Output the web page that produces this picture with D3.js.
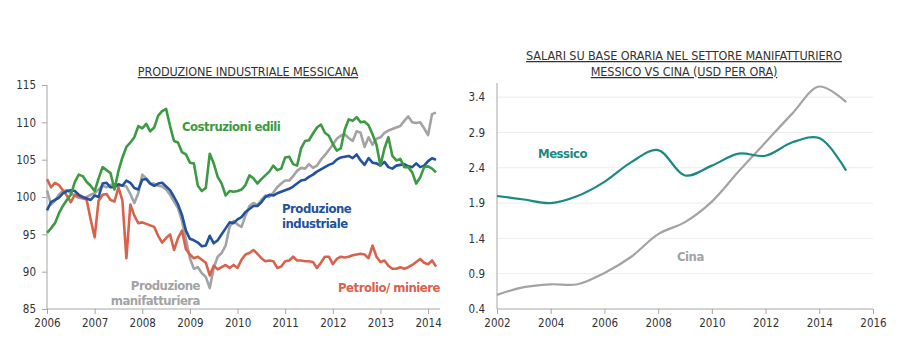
<!DOCTYPE html>
<html lang="it">
<head>
<meta charset="UTF-8">
<title>Messico</title>
<script src="https://d3js.org/d3.v7.min.js"></script>
<style>
    body { margin: 0; background: #fff; font-family: "Liberation Sans Narrow", "DejaVu Sans Condensed", "Arial Narrow", sans-serif; }
    .axis text { font-size: 11.5px; fill: #333; font-family: "Liberation Sans Narrow", "DejaVu Sans Condensed", sans-serif; }
    .axis path, .axis line { stroke: #a6a6a6; }
    .title { font-size: 12.5px; fill: #333; text-decoration: underline; letter-spacing: -0.1px; }
    .lbl { font-size: 13px; font-weight: bold; letter-spacing: -0.5px; }
</style>
</head>
<body>
<svg id="chart" width="900" height="350"></svg>
<script>
    // Left chart: monthly index, Jan 2006 .. Mar 2014
    const startYear = 2006;
    const costruzioni = [
        95.2, 95.8, 96.5, 97.8, 98.8, 99.6, 100.3, 102.0, 103.0, 102.8, 102.0, 101.5,
        100.8, 102.5, 104.0, 103.6, 103.2, 101.0, 103.5, 105.3, 106.7, 107.3, 108.0, 109.5,
        109.2, 109.8, 108.8, 109.3, 110.9, 111.5, 111.8, 109.5, 107.5, 107.3, 106.0, 105.7,
        104.6, 104.5, 101.5, 100.8, 101.2, 105.8, 104.5, 102.7, 101.8, 100.2, 100.8, 100.7,
        100.8, 101.0, 101.6, 102.9, 102.5, 101.8, 102.4, 102.9, 103.4, 104.2, 103.6, 103.8,
        105.3, 105.4, 104.4, 104.2, 106.5, 107.5, 107.6, 108.5, 109.3, 109.7, 108.6, 108.2,
        107.1, 106.2, 106.5, 109.0, 110.4, 110.2, 110.7, 110.0, 110.1, 109.6, 108.4, 107.0,
        104.2, 106.5, 108.0, 105.5, 104.9, 105.1, 104.0, 104.0, 103.3, 101.8, 102.6, 104.0,
        104.1, 103.8, 103.3
    ];
    const industriale = [
        98.2, 99.3, 99.6, 99.9, 100.5, 100.8, 100.9, 100.8, 100.3, 100.0, 99.8, 99.6,
        100.2, 100.0, 101.8, 101.9, 101.3, 101.3, 101.7, 101.5, 102.2, 101.9, 101.2, 101.0,
        102.3, 102.4, 101.8, 101.5, 101.8, 101.9, 101.4, 100.9, 100.0, 99.0, 97.6, 95.5,
        94.4, 94.2, 93.9, 93.4, 93.5, 94.8, 93.8, 94.2, 95.0, 95.8, 96.6, 96.5,
        97.0, 97.3, 98.0, 98.4, 98.8, 98.8, 99.3, 100.0, 100.3, 100.2, 100.5, 100.7,
        100.9, 101.1, 101.4, 101.8, 102.2, 102.3, 102.7, 103.0, 103.4, 103.7, 104.0, 104.3,
        104.5, 105.0, 105.3, 105.4, 105.5, 105.2, 105.7, 104.9, 104.3, 105.2, 104.6, 104.5,
        104.2, 104.7, 104.0, 103.8, 104.2, 104.3, 104.4, 104.1, 104.0, 104.5, 104.0, 104.2,
        104.8, 105.2, 105.0
    ];
    const manifatturiera = [
        100.9, 99.0, 99.5, 100.3, 100.8, 100.9, 100.5, 100.2, 99.9, 99.8, 100.0, 100.3,
        100.5, 101.0, 101.5, 101.3, 101.6, 101.7, 101.5, 101.6, 101.4, 100.4, 99.2, 100.5,
        103.0, 102.5, 101.8, 101.8, 101.5, 101.4, 101.0, 100.3, 99.4, 98.5, 96.8, 94.3,
        91.8, 90.4, 90.6, 89.8, 89.3, 87.8, 90.5, 92.0, 92.5, 93.5, 96.0, 96.8,
        96.3, 96.0, 97.5, 98.8, 99.2, 98.9, 99.6, 100.2, 100.0, 100.6, 101.3, 101.8,
        102.2, 102.2, 102.8, 103.5, 103.9, 103.8, 104.4, 103.9, 104.2, 105.0, 105.6, 106.3,
        107.0, 107.8, 108.2, 108.4, 107.9, 107.5, 108.8, 108.6, 106.7, 108.0, 107.0, 107.8,
        108.0, 108.6, 108.9, 109.1, 109.3, 109.5, 110.2, 110.8, 110.0, 109.9, 110.0, 109.2,
        108.3, 111.1, 111.3
    ];
    const petrolio = [
        102.4, 101.3, 101.9, 101.6, 100.9, 100.2, 99.3, 100.3, 100.1, 99.9, 99.6, 97.0,
        94.6, 99.5, 100.3, 100.4, 99.6, 99.4, 101.3, 99.5, 91.8, 99.0, 97.5, 96.5,
        96.6, 96.4, 96.2, 96.0, 94.8, 93.9, 94.5, 95.0, 92.9, 94.5, 95.5, 93.0,
        92.3, 91.8, 92.0, 91.6, 91.2, 89.5, 90.8, 90.3, 90.6, 90.9, 90.5, 90.9,
        90.5, 91.6, 92.3, 92.5, 92.9, 92.4, 91.8, 91.4, 91.5, 91.4, 90.5, 90.7,
        91.4, 91.5, 92.0, 91.5, 91.5, 91.4, 91.4, 91.3, 90.5, 91.2, 92.0, 92.0,
        91.0, 91.7, 92.0, 91.9, 92.0, 92.2, 92.3, 92.4, 92.3, 91.8, 93.5, 92.0,
        91.3, 91.5, 90.8, 90.4, 90.4, 90.6, 90.4, 90.6, 90.9, 91.3, 91.7, 91.2,
        91.0, 91.5, 90.7
    ];
    const leftYTicks = [85, 90, 95, 100, 105, 110, 115];
    const leftXTicks = [2006, 2007, 2008, 2009, 2010, 2011, 2012, 2013, 2014];

    // Right chart: yearly hourly wages (USD)
    const anni = [2002, 2003, 2004, 2005, 2006, 2007, 2008, 2009, 2010, 2011, 2012, 2013, 2014, 2015];
    const messico = [2.00, 1.95, 1.90, 2.00, 2.20, 2.48, 2.65, 2.29, 2.43, 2.60, 2.57, 2.76, 2.82, 2.36];
    const cina = [0.60, 0.71, 0.75, 0.75, 0.91, 1.14, 1.46, 1.63, 1.92, 2.35, 2.76, 3.17, 3.55, 3.33];
    const rightYTicks = [0.4, 0.9, 1.4, 1.9, 2.4, 2.9, 3.4];
    const rightXTicks = [2002, 2004, 2006, 2008, 2010, 2012, 2014, 2016];

    const colors = {
        costruzioni: "#3b9a42",
        industriale: "#22529e",
        manifatturiera: "#a3a3a3",
        petrolio: "#d9624b",
        messico: "#1a8a82",
        cina: "#a3a3a3"
    };

    const svg = d3.select("#chart");

    // ---------- left chart ----------
    const L = { left: 47, right: 440, top: 85, bottom: 309 };
    const xL = d3.scaleLinear().domain([2006, 2014.25]).range([L.left, L.right]);
    const yL = d3.scaleLinear().domain([85, 115]).range([L.bottom, L.top]);

    const left = svg.append("g");

    left.append("g")
        .attr("class", "axis")
        .attr("transform", `translate(0,${L.bottom})`)
        .call(d3.axisBottom(xL).tickValues(leftXTicks).tickFormat(d3.format("d")).tickSize(5).tickPadding(5))
        .call(g => g.select(".domain").attr("d", `M${L.left},0H${L.right}`));

    left.append("g")
        .attr("class", "axis")
        .attr("transform", `translate(${L.left},0)`)
        .call(d3.axisLeft(yL).tickValues(leftYTicks).tickSize(5).tickPadding(6))
        .call(g => g.select(".domain").attr("d", `M0,${L.top}V${L.bottom}`));

    const monthLine = d3.line()
        .x((d, i) => xL(startYear + i / 12))
        .y(d => yL(d));

    const leftSeries = [
        [manifatturiera, colors.manifatturiera],
        [petrolio, colors.petrolio],
        [industriale, colors.industriale],
        [costruzioni, colors.costruzioni]
    ];
    leftSeries.forEach(([data, c]) => {
        left.append("path")
            .datum(data)
            .attr("fill", "none")
            .attr("stroke", c)
            .attr("stroke-width", 2.6)
            .attr("stroke-linejoin", "round")
            .attr("d", monthLine);
    });

    left.append("text").attr("class", "title")
        .attr("x", 248).attr("y", 76).attr("text-anchor", "middle")
        .text("PRODUZIONE INDUSTRIALE MESSICANA");

    left.append("text").attr("class", "lbl").attr("fill", colors.costruzioni)
        .attr("x", 182).attr("y", 131).text("Costruzioni edili");

    // two-line labels, one text per line
    left.append("text").attr("class", "lbl").attr("fill", colors.industriale)
        .attr("x", 282).attr("y", 213).text("Produzione");
    left.append("text").attr("class", "lbl").attr("fill", colors.industriale)
        .attr("x", 282).attr("y", 228).text("industriale");

    left.append("text").attr("class", "lbl").attr("fill", colors.manifatturiera)
        .attr("text-anchor", "end").attr("x", 200).attr("y", 290).text("Produzione");
    left.append("text").attr("class", "lbl").attr("fill", colors.manifatturiera)
        .attr("text-anchor", "end").attr("x", 200).attr("y", 305).text("manifatturiera");

    left.append("text").attr("class", "lbl").attr("fill", colors.petrolio)
        .attr("x", 440).attr("y", 292).attr("text-anchor", "end").text("Petrolio/ miniere");

    // ---------- right chart ----------
    const R = { left: 497, right: 873, top: 83, bottom: 309 };
    const xR = d3.scaleLinear().domain([2002, 2016]).range([R.left, R.right]);
    const yR = d3.scaleLinear().domain([0.4, 3.6]).range([R.bottom, R.top]);

    const right = svg.append("g");

    right.append("g")
        .selectAll("line")
        .data(rightYTicks.slice(1))
        .join("line")
        .attr("x1", R.left).attr("x2", R.right)
        .attr("y1", d => yR(d)).attr("y2", d => yR(d))
        .attr("stroke", "#ececec");

    right.append("g")
        .attr("class", "axis")
        .attr("transform", `translate(0,${R.bottom})`)
        .call(d3.axisBottom(xR).tickValues(rightXTicks).tickFormat(d3.format("d")).tickSize(5).tickPadding(5))
        .call(g => g.select(".domain").attr("d", `M${R.left},0H${R.right}`));

    right.append("g")
        .attr("class", "axis")
        .attr("transform", `translate(${R.left},0)`)
        .call(d3.axisLeft(yR).tickValues(rightYTicks).tickFormat(d3.format(".1f")).tickSize(0).tickPadding(12))
        .call(g => g.select(".domain").attr("d", `M0,${R.top}V${R.bottom}`));

    const yearLine = d3.line()
        .x((d, i) => xR(anni[i]))
        .y(d => yR(d))
        .curve(d3.curveCatmullRom.alpha(0.5));

    [[cina, colors.cina], [messico, colors.messico]].forEach(([data, c]) => {
        right.append("path")
            .datum(data)
            .attr("fill", "none")
            .attr("stroke", c)
            .attr("stroke-width", 2.2)
            .attr("d", yearLine);
    });

    right.append("text").attr("class", "title").attr("text-anchor", "middle")
        .attr("x", 684).attr("y", 60).text("SALARI SU BASE ORARIA NEL SETTORE MANIFATTURIERO");
    right.append("text").attr("class", "title").attr("text-anchor", "middle")
        .attr("x", 684).attr("y", 76).text("MESSICO VS CINA (USD PER ORA)");

    right.append("text").attr("class", "lbl").attr("fill", colors.messico)
        .attr("x", 538).attr("y", 158).text("Messico");
    right.append("text").attr("class", "lbl").attr("fill", colors.cina)
        .attr("x", 677).attr("y", 261).text("Cina");
</script>
</body>
</html>
